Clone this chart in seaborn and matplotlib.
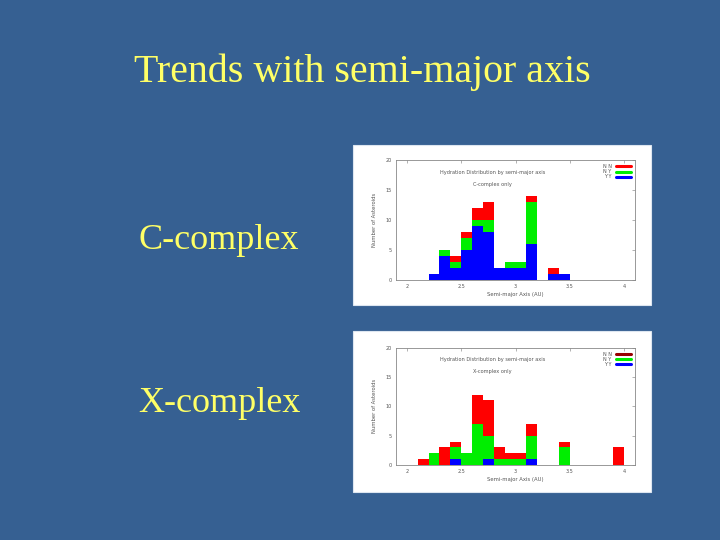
import numpy as np
import pandas as pd
import matplotlib
matplotlib.use('Agg')
import matplotlib.pyplot as plt
from matplotlib.lines import Line2D
from matplotlib.patches import Rectangle
import seaborn as sns

# bin centres of the semi-major axis histogram (AU), 0.1 AU bins from 2 to 4
centers = np.round(np.arange(2.05, 4.0, 0.1), 2)

# C-complex counts per 0.1 AU bin
c_yy = [0, 0, 1, 4, 2, 5, 9, 8, 2, 2, 2, 6, 0, 1, 1, 0, 0, 0, 0, 0]
c_ny = [0, 0, 0, 1, 1, 2, 1, 2, 0, 1, 1, 7, 0, 0, 0, 0, 0, 0, 0, 0]
c_nn = [0, 0, 0, 0, 1, 1, 2, 3, 0, 0, 0, 1, 0, 1, 0, 0, 0, 0, 0, 0]

# X-complex counts per 0.1 AU bin
x_yy = [0, 0, 0, 0, 1, 0, 0, 1, 0, 0, 0, 1, 0, 0, 0, 0, 0, 0, 0, 0]
x_ny = [0, 0, 2, 0, 2, 2, 7, 4, 1, 1, 1, 4, 0, 0, 3, 0, 0, 0, 0, 0]
x_nn = [0, 1, 0, 3, 1, 0, 5, 6, 2, 1, 1, 2, 0, 0, 1, 0, 0, 0, 0, 3]

labels = ['N N', 'N Y', 'Y Y']
palette = {'N N': '#ff0000', 'N Y': '#00ee00', 'Y Y': '#0000ff'}

bg = '#366092'
fg = '#ffff66'


def long_table(nn, ny, yy):
    rows = []
    for lab, vals in zip(labels, [nn, ny, yy]):
        for c, v in zip(centers, vals):
            rows.append({'a': c, 'n': v, 'cat': lab})
    return pd.DataFrame(rows)


def draw_panel(fig, img_rect, ax_rect, df, subtitle, legend_red):
    fig.patches.append(Rectangle(img_rect[:2], img_rect[2], img_rect[3],
                                 transform=fig.transFigure, facecolor='white',
                                 edgecolor='#dde6f0', linewidth=0.8, zorder=-1))
    ax = fig.add_axes(ax_rect)
    sns.histplot(data=df, x='a', weights='n', hue='cat', hue_order=labels,
                 multiple='stack', binwidth=0.1, binrange=(2.0, 4.0),
                 palette=palette, alpha=1, linewidth=0, legend=False, ax=ax)
    ax.set_xlim(1.9, 4.1)
    ax.set_ylim(0, 20)
    ax.set_xticks([2, 2.5, 3, 3.5, 4])
    ax.set_xticklabels(['2', '2.5', '3', '3.5', '4'])
    ax.set_yticks([0, 5, 10, 15, 20])
    ax.tick_params(direction='in', top=True, right=True, labelsize=3.5,
                   length=2, width=0.4, colors='#777777', labelcolor='#555555', pad=3)
    for s in ax.spines.values():
        s.set_color('#888888')
        s.set_linewidth(0.6)
    ax.set_facecolor('white')
    ax.set_xlabel('Semi-major Axis (AU)', fontsize=3.8, color='#555555', labelpad=2)
    ax.set_ylabel('Number of Asteroids', fontsize=3.8, color='#555555', labelpad=6)
    ax.text(2.79, 18, 'Hydration Distribution by semi-major axis', fontsize=3.6,
            color='#555555', ha='center', va='center')
    ax.text(2.79, 16, subtitle, fontsize=3.6, color='#555555', ha='center', va='center')
    handles = [Line2D([], [], color=legend_red, lw=2.2),
               Line2D([], [], color=palette['N Y'], lw=2.2),
               Line2D([], [], color=palette['Y Y'], lw=2.2)]
    ax.legend(handles, labels, loc='upper right', frameon=False, markerfirst=False,
              fontsize=3.5, handlelength=3.2, labelspacing=0.05, borderaxespad=0.4,
              handletextpad=0.8, labelcolor='#555555')
    return ax


sns.set_style('white')
plt.rcParams['font.family'] = ['DejaVu Sans']

fig = plt.figure(figsize=(7.2, 5.4), dpi=100, facecolor=bg)

fig.text(0.503, 0.866, 'Trends with semi-major axis', fontsize=28.7, color=fg,
         family='Liberation Serif', ha='center', va='center')
fig.text(0.193, 0.555, 'C-complex', fontsize=26, color=fg,
         family='Liberation Serif', ha='left', va='center')
fig.text(0.192, 0.253, 'X-complex', fontsize=26, color=fg,
         family='Liberation Serif', ha='left', va='center')

draw_panel(fig, (0.490, 0.435, 0.414, 0.296), (0.55, 0.4815, 0.332, 0.222),
           long_table(c_nn, c_ny, c_yy), 'C-complex only', '#ff0000')
draw_panel(fig, (0.490, 0.089, 0.414, 0.298), (0.55, 0.139, 0.332, 0.217),
           long_table(x_nn, x_ny, x_yy), 'X-complex only', '#990000')

fig.savefig('out.png', dpi=100, facecolor=bg)
